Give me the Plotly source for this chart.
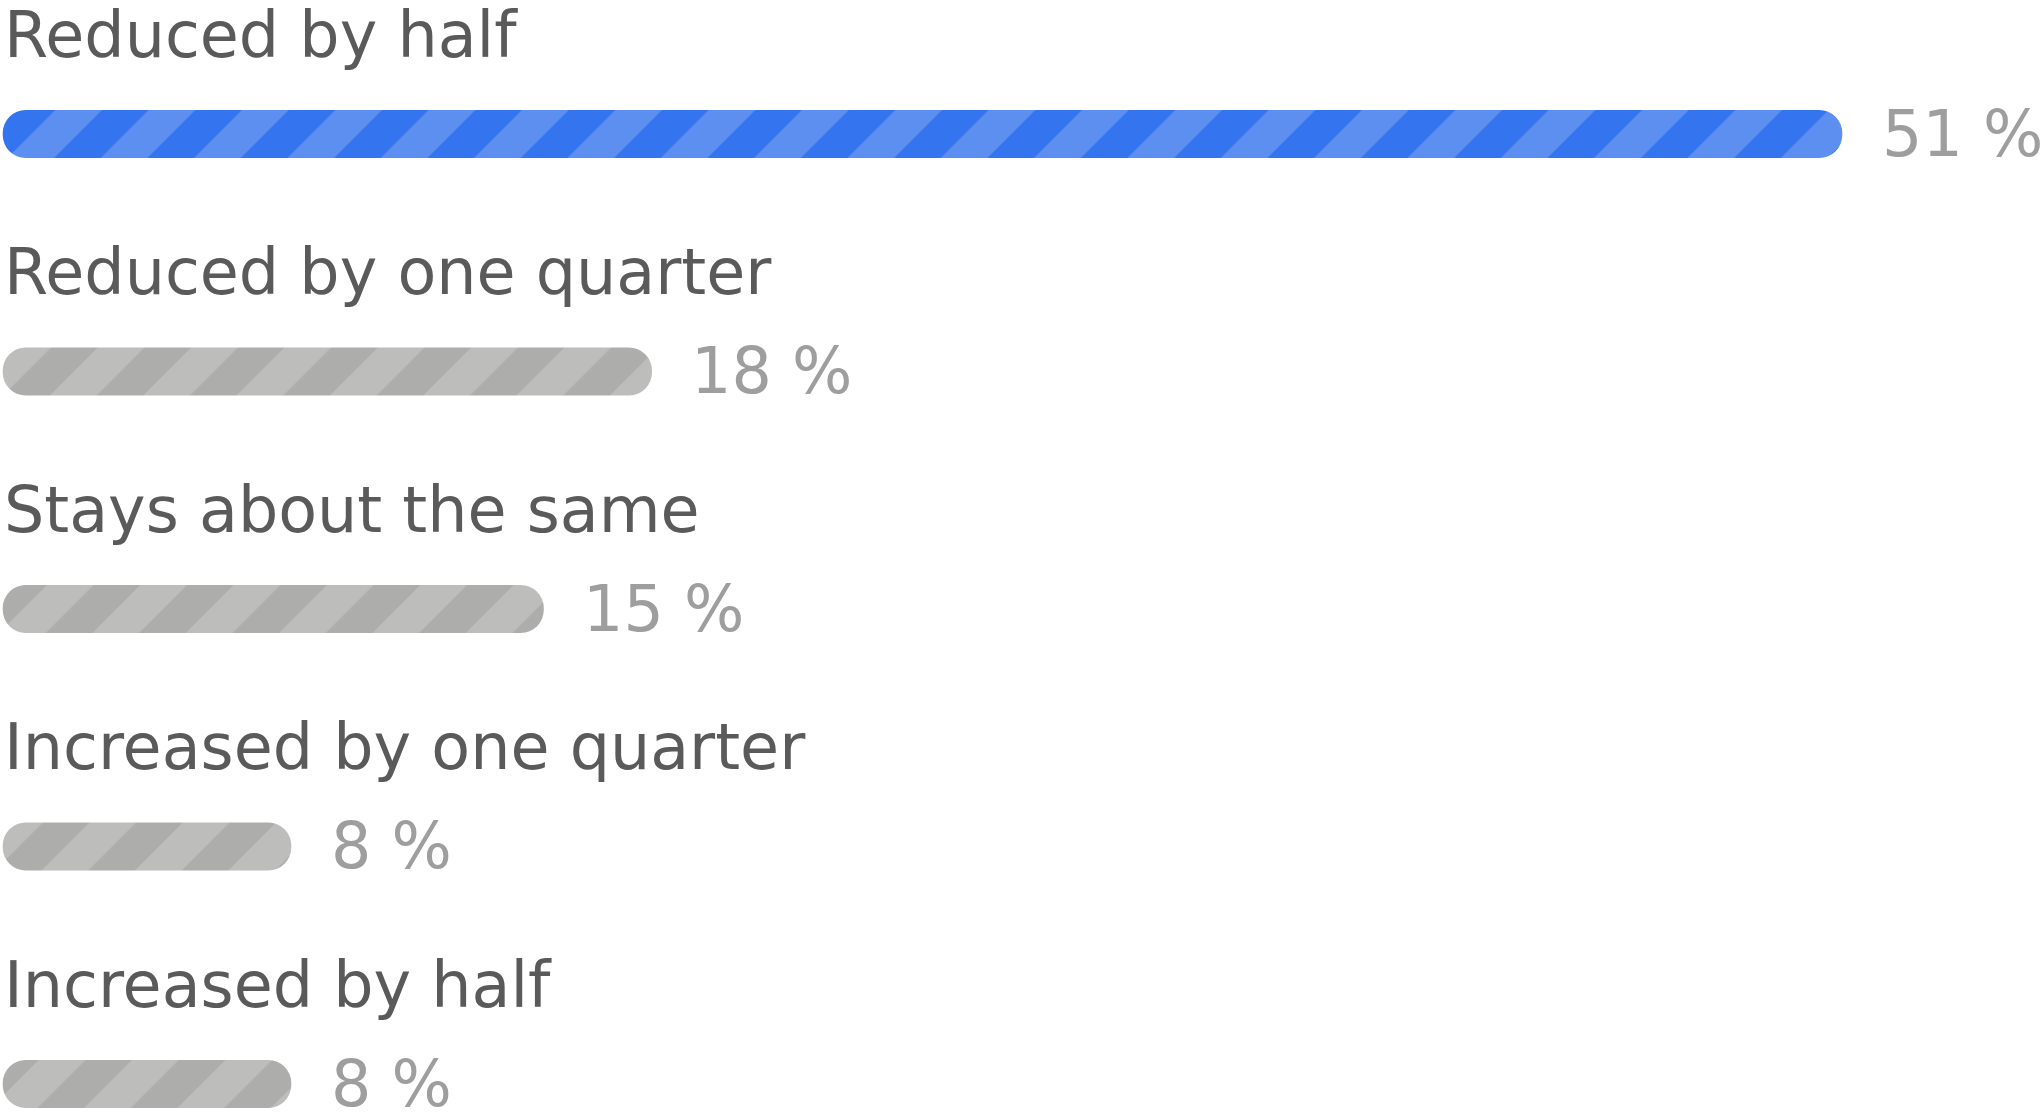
import plotly.graph_objects as go

categories = ["Reduced by half", "Reduced by one quarter", "Stays about the same",
              "Increased by one quarter", "Increased by half"]
values = [51, 18, 15, 8, 8]
value_labels = ["51 %", "18 %", "15 %", "8 %", "8 %"]
highlight = [True, False, False, False, False]

BLUE_BG, BLUE_FG = "#3574ef", "#5d8ff1"
GRAY_BG, GRAY_FG = "#adadac", "#bdbdbc"

fig = go.Figure()
for cat, v, hl in zip(categories, values, highlight):
    bg = BLUE_BG if hl else GRAY_BG
    fg = BLUE_FG if hl else GRAY_FG
    fig.add_trace(go.Bar(
        x=[v], base=[0.02], y=[cat], orientation="h", width=0.202,
        marker=dict(
            color=bg, cornerradius=24, line=dict(width=0),
            pattern=dict(shape="/", size=66, solidity=0.5, bgcolor=bg, fgcolor=fg,
                         fgopacity=1, fillmode="replace"),
        ),
        hoverinfo="skip", showlegend=False,
    ))

annotations = []
for cat, v, lab in zip(categories, values, value_labels):
    annotations.append(dict(
        x=0, y=cat, xref="x", yref="y", xanchor="left", yanchor="middle",
        yshift=99, text=cat, showarrow=False,
        font=dict(family="DejaVu Sans", size=63.5, color="#5a5a5a"),
    ))
    annotations.append(dict(
        x=v, y=cat, xref="x", yref="y", xanchor="left", yanchor="middle",
        xshift=38, text=lab, showarrow=False,
        font=dict(family="DejaVu Sans", size=63.5, color="#9e9e9e"),
    ))

fig.update_layout(
    width=2040, height=1112,
    margin=dict(l=2, r=0, t=0, b=0),
    paper_bgcolor="white", plot_bgcolor="white",
    barmode="overlay",
    xaxis=dict(range=[0, 56.5], visible=False, fixedrange=True),
    yaxis=dict(type="category", categoryorder="array", categoryarray=categories,
               range=[4.118, -0.564], visible=False, fixedrange=True),
    annotations=annotations,
)

fig.write_html("out.html", post_script="document.body.style.margin='0';",
               config={"displayModeBar": False})
